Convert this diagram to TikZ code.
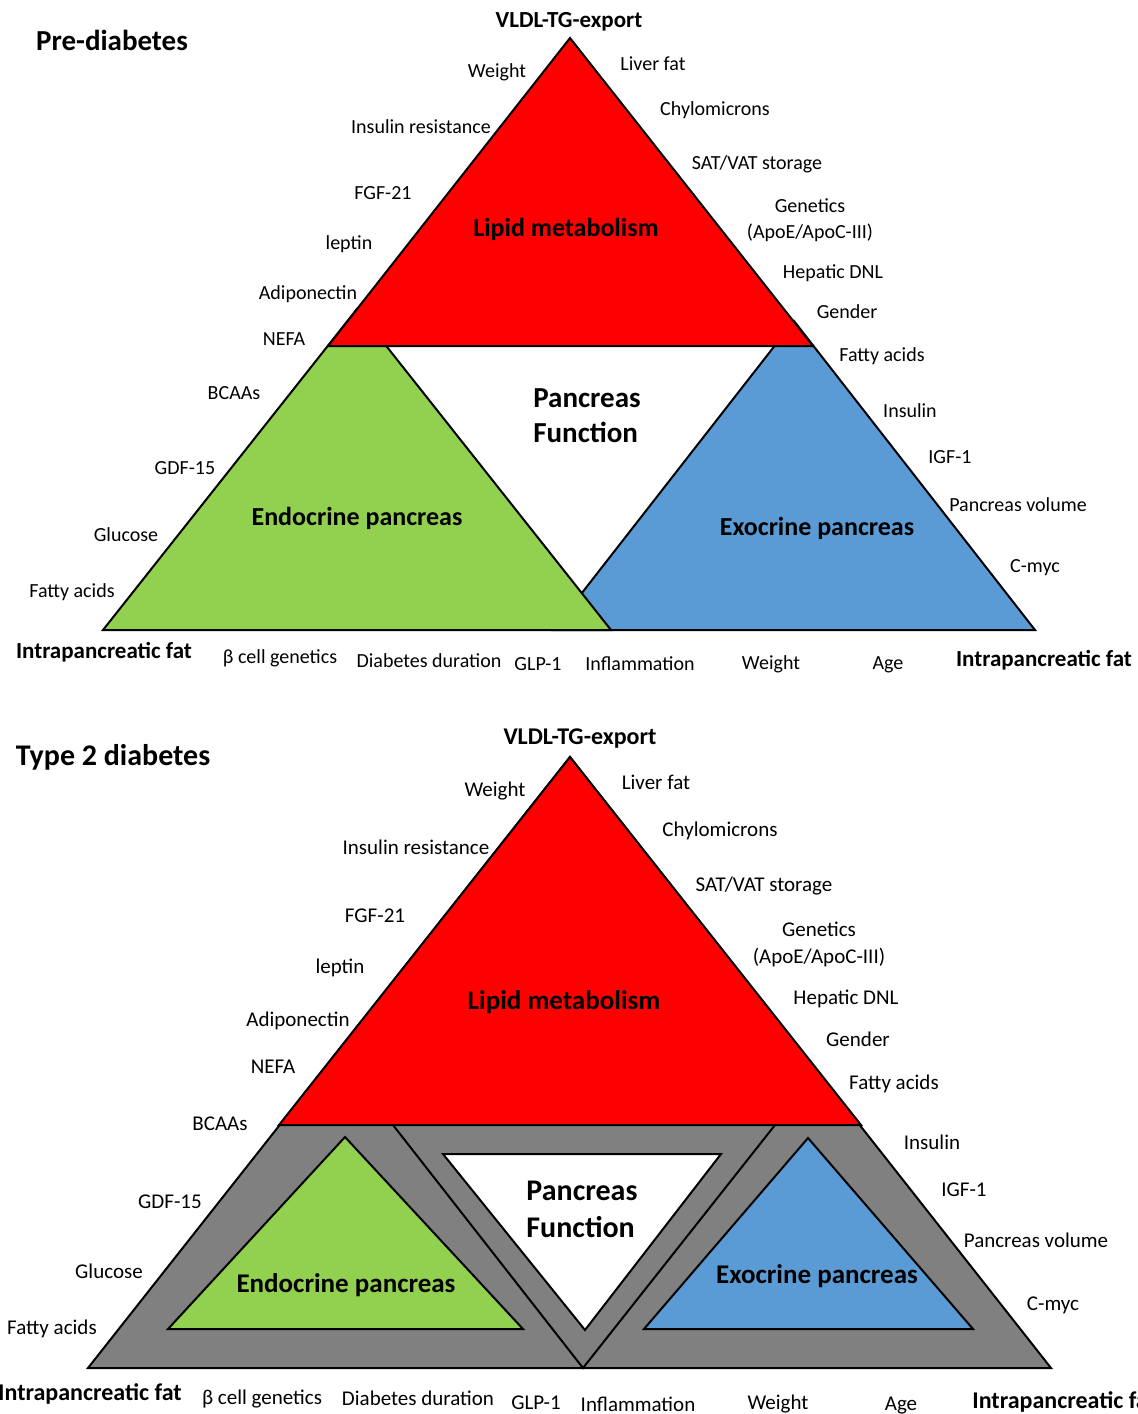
\documentclass[tikz,border=0pt]{standalone}
\usepackage{fontspec}
\setmainfont{Carlito}
\usepackage{tikz}

\definecolor{lipidred}{HTML}{FF0000}
\definecolor{endogreen}{HTML}{92D050}
\definecolor{exoblue}{HTML}{5B9BD5}
\definecolor{fatgrey}{HTML}{808080}

\tikzset{
  tri/.style={draw=black, line width=1pt},
  lbl/.style={font=\fontsize{10}{12}\selectfont, inner sep=0pt},
  lblb/.style={font=\fontsize{10.5}{12.5}\selectfont, inner sep=0pt},
  corner/.style={font=\bfseries\fontsize{#1}{13}\selectfont, inner sep=0pt},
  region/.style={font=\bfseries\fontsize{#1}{15}\selectfont, inner sep=0pt},
  panel/.style={font=\bfseries\fontsize{#1}{#1}\selectfont, inner sep=0pt},
  func/.style={font=\bfseries\fontsize{#1}{17.5}\selectfont, align=left, inner sep=0pt}
}

\begin{document}
\begin{tikzpicture}[x=0.5pt, y=-0.5pt]
\useasboundingbox (0,0) rectangle (1138,1414);

% pre-diabetes
\coordinate (preTop) at (570,38);
\coordinate (preL) at (103,630);
\coordinate (preR) at (1035,630);
\draw[tri, fill=exoblue] (553,630) -- (preR) -- (794,321) -- cycle;
\draw[tri, fill=endogreen] (preL) -- (611,630) -- (357,309) -- cycle;
\draw[tri, fill=lipidred] (preTop) -- (813,346) -- (328,346) -- cycle;

\node[panel=14.5] (preT) at (112,40) {Pre-diabetes};
\node[corner=11.5] (preVldl) at (569,22) {VLDL-TG-export};
\node[corner=11.5] (preFatL) at (104,652) {Intrapancreatic fat};
\node[corner=11.5] (preFatR) at (1044,660) {Intrapancreatic fat};
\node[region=13] (preLipid) at (566,229) {Lipid metabolism};
\node[region=13] (preEndo) at (357,518) {Endocrine pancreas};
\node[region=13] (preExo) at (817,528) {Exocrine pancreas};
\node[func=14.5] (preFunc) at (587,416) {Pancreas\\Function};

\node[lbl] (p1) at (497,72) {Weight};
\node[lbl] (p2) at (421,127) {Insulin resistance};
\node[lbl] (p3) at (383,193) {FGF-21};
\node[lbl] (p4) at (349,244) {leptin};
\node[lbl] (p5) at (308,294) {Adiponectin};
\node[lbl] (p6) at (284,339) {NEFA};
\node[lbl] (p7) at (234,393) {BCAAs};
\node[lbl] (p8) at (185,468) {GDF-15};
\node[lbl] (p9) at (126,535) {Glucose};
\node[lbl] (p10) at (72,592) {Fatty acids};
\node[lbl] (p11) at (653,64) {Liver fat};
\node[lbl] (p12) at (715,110) {Chylomicrons};
\node[lbl] (p13) at (757,164) {SAT/VAT storage};
\node[lbl, align=center] (p14) at (810,220) {Genetics\\[1pt](ApoE/ApoC-III)};
\node[lbl] (p15) at (833,273) {Hepatic DNL};
\node[lbl] (p16) at (847,312) {Gender};
\node[lbl] (p17) at (882,356) {Fatty acids};
\node[lbl] (p18) at (910,411) {Insulin};
\node[lbl] (p19) at (950,457) {IGF-1};
\node[lbl] (p20) at (1018,505) {Pancreas volume};
\node[lbl] (p21) at (1035,568) {C-myc};
\node[lbl] (p22) at (280,658) {β cell genetics};
\node[lbl] (p23) at (429,661) {Diabetes duration};
\node[lbl] (p24) at (538,664) {GLP-1};
\node[lbl] (p25) at (640,664) {Inflammation};
\node[lbl] (p26) at (771,664) {Weight};
\node[lbl] (p27) at (888,665) {Age};

% type 2 diabetes
\coordinate (t2Top) at (570,757);
\coordinate (t2L) at (88,1368);
\coordinate (t2R) at (1051,1368);
\coordinate (t2Mid) at (583,1368);
\draw[tri, fill=fatgrey] (t2Top) -- (t2R) -- (t2L) -- cycle;
\draw[tri] (393,1125) -- (t2Mid) -- (775,1125);
\draw[tri, fill=white] (443,1154) -- (721,1154) -- (585,1330) -- cycle;
\draw[tri, fill=endogreen] (345,1137) -- (523,1329) -- (168,1329) -- cycle;
\draw[tri, fill=exoblue] (808,1138) -- (973,1329) -- (644,1329) -- cycle;
\draw[tri, fill=lipidred] (t2Top) -- (861,1125) -- (279,1125) -- cycle;

\node[panel=15] (t2T) at (113,757) {Type 2 diabetes};
\node[corner=12] (t2Vldl) at (580,739) {VLDL-TG-export};
\node[corner=12] (t2FatL) at (90,1394) {Intrapancreatic fat};
\node[corner=12, anchor=west] (t2FatR) at (972,1402) {Intrapancreatic fat};
\node[region=13.5] (t2Lipid) at (564,1002) {Lipid metabolism};
\node[region=13.5] (t2Endo) at (346,1285) {Endocrine pancreas};
\node[region=13.5] (t2Exo) at (817,1276) {Exocrine pancreas};
\node[func=15] (t2Func) at (582,1209) {Pancreas\\[1pt]Function};

\node[lblb] (q1) at (495,791) {Weight};
\node[lblb] (q2) at (416,847) {Insulin resistance};
\node[lblb] (q3) at (375,916) {FGF-21};
\node[lblb] (q4) at (340,968) {leptin};
\node[lblb] (q5) at (298,1021) {Adiponectin};
\node[lblb] (q6) at (273,1067) {NEFA};
\node[lblb] (q7) at (220,1124) {BCAAs};
\node[lblb] (q8) at (170,1202) {GDF-15};
\node[lblb] (q9) at (109,1271) {Glucose};
\node[lblb] (q10) at (52,1329) {Fatty acids};
\node[lblb] (q11) at (656,782) {Liver fat};
\node[lblb] (q12) at (720,831) {Chylomicrons};
\node[lblb] (q13) at (764,886) {SAT/VAT storage};
\node[lblb, align=center] (q14) at (819,944) {Genetics\\[1pt](ApoE/ApoC-III)};
\node[lblb] (q15) at (846,999) {Hepatic DNL};
\node[lblb] (q16) at (858,1039) {Gender};
\node[lblb] (q17) at (894,1084) {Fatty acids};
\node[lblb] (q18) at (932,1142) {Insulin};
\node[lblb] (q19) at (964,1190) {IGF-1};
\node[lblb] (q20) at (1036,1240) {Pancreas volume};
\node[lblb] (q21) at (1053,1305) {C-myc};
\node[lblb] (q22) at (262,1399) {β cell genetics};
\node[lblb] (q23) at (418,1398) {Diabetes duration};
\node[lblb] (q24) at (536,1403) {GLP-1};
\node[lblb] (q25) at (638,1404) {Inflammation};
\node[lblb] (q26) at (778,1404) {Weight};
\node[lblb] (q27) at (901,1406) {Age};
\end{tikzpicture}
\end{document}
